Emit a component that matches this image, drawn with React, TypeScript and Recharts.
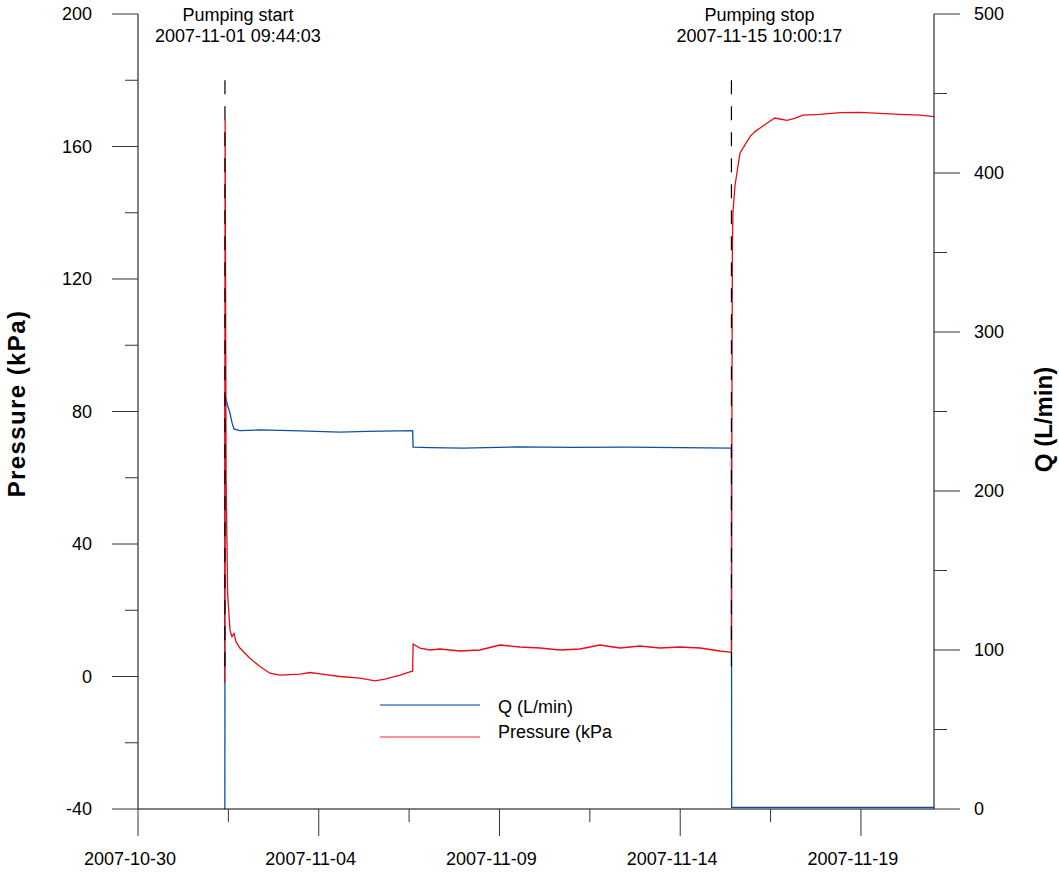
import {
	Legend,
	Line,
	LineChart,
	ReferenceLine,
	XAxis,
	YAxis,
} from "recharts";

// pressure (kPa), left axis
const pressureTimes = [
	"2007-11-01 09:30", "2007-11-01 09:50", "2007-11-01 10:30", "2007-11-01 11:30",
	"2007-11-01 13:05", "2007-11-01 14:24", "2007-11-01 15:44", "2007-11-01 17:02",
	"2007-11-01 19:41", "2007-11-01 23:00", "2007-11-02 02:21", "2007-11-02 09:00",
	"2007-11-02 15:36", "2007-11-02 22:19", "2007-11-03 11:30", "2007-11-03 18:13",
	"2007-11-04 00:50", "2007-11-04 14:10", "2007-11-05 03:23", "2007-11-05 13:20",
	"2007-11-05 20:00", "2007-11-06 06:00", "2007-11-06 12:30", "2007-11-06 14:20",
	"2007-11-06 14:40", "2007-11-06 19:15", "2007-11-07 02:00", "2007-11-07 08:30",
	"2007-11-07 21:50", "2007-11-08 11:00", "2007-11-09 00:20", "2007-11-09 13:40",
	"2007-11-10 02:55", "2007-11-10 16:10", "2007-11-11 05:30", "2007-11-11 18:40",
	"2007-11-12 08:00", "2007-11-12 21:20", "2007-11-13 10:30", "2007-11-13 23:50",
	"2007-11-14 13:10", "2007-11-15 02:25", "2007-11-15 10:00", "2007-11-15 10:20",
	"2007-11-15 10:40", "2007-11-15 11:00", "2007-11-15 12:20", "2007-11-15 15:40",
	"2007-11-15 19:00", "2007-11-15 22:20", "2007-11-16 01:40", "2007-11-16 04:50",
	"2007-11-16 09:30", "2007-11-16 14:50", "2007-11-16 18:10", "2007-11-16 22:50",
	"2007-11-17 04:00", "2007-11-17 09:30", "2007-11-17 20:50", "2007-11-18 10:10",
	"2007-11-18 23:20", "2007-11-19 12:40", "2007-11-20 01:50", "2007-11-20 15:10",
	"2007-11-21 00:30",
];
const pressureValues = [
	-2, 168, 60, 25,
	14, 12, 13, 10.5,
	8.6, 7, 5.5, 3,
	1, 0.4, 0.7, 1.2,
	0.8, 0, -0.5, -1.3,
	-0.8, 0.4, 1.4, 1.6,
	9.8, 8.6, 8, 8.3,
	7.7, 8, 9.5, 8.9,
	8.6, 8, 8.3, 9.5,
	8.6, 9.2, 8.6, 8.9,
	8.6, 7.7, 7.3, 80,
	130, 140, 148, 158,
	160.5, 163, 164.5, 165.5,
	167, 168.6, 168.3, 167.9,
	168.5, 169.5, 169.7, 170.2,
	170.3, 170, 169.7, 169.5,
	169,
];

// flow Q (L/min), right axis
const flowTimes = [
	"2007-11-01 09:40", "2007-11-01 09:50", "2007-11-01 11:45", "2007-11-01 13:05",
	"2007-11-01 14:24", "2007-11-01 15:44", "2007-11-01 19:41", "2007-11-02 09:00",
	"2007-11-03 11:30", "2007-11-04 14:10", "2007-11-05 08:00", "2007-11-06 14:20",
	"2007-11-06 14:40", "2007-11-07 02:00", "2007-11-08 00:00", "2007-11-09 12:00",
	"2007-11-11 00:00", "2007-11-12 12:00", "2007-11-14 00:00", "2007-11-15 10:00",
	"2007-11-15 10:10", "2007-11-21 00:30",
];
const flowValues = [
	0, 260, 253, 249,
	243, 239, 238, 238.4,
	237.8, 237, 237.5, 238,
	227.6, 227.3, 227, 227.7,
	227.5, 227.6, 227.3, 227,
	1, 1,
];

const events = ["2007-11-01 09:44:03", "2007-11-15 10:00:17"];
const eventTitles = ["Pumping start", "Pumping stop"];
const eventLabelDx = [13, 28];

const xStart = "2007-10-30 00:00";
const xEnd = "2007-11-21 00:30";
const pressureTicks = [-40, -20, 0, 20, 40, 60, 80, 100, 120, 140, 160, 180, 200];
const flowTicks = [0, 50, 100, 150, 200, 250, 300, 350, 400, 450, 500];
const legendLabels = ["Q (L/min)", "Pressure (kPa"];

const ts = (s: string) => Date.parse(s.replace(" ", "T") + "Z");
const DAY = 86400000;
const t0 = ts(xStart);
const xTicks = [0, 2.5, 5, 7.5, 10, 12.5, 15, 17.5, 20].map((d) => t0 + d * DAY);

const pressureData = pressureTimes.map((s, i) => ({ t: ts(s), p: pressureValues[i] }));
const flowData = flowTimes.map((s, i) => ({ t: ts(s), q: flowValues[i] }));

const FONT = "'Liberation Sans', Arial, sans-serif";
const RED = "#ec0a14";
const BLUE = "#0c50a0";

const LeftTick = ({ x, y, payload }: any) => {
	const major = payload.value % 40 === 0;
	return (
		<g>
			<line x1={x - (major ? 26 : 13)} x2={x} y1={y} y2={y} stroke="#333" />
			{major && (
				<text x={x - 46} y={y} textAnchor="end" dominantBaseline="central" fontSize={18} fill="#000">
					{payload.value}
				</text>
			)}
		</g>
	);
};

const RightTick = ({ x, y, payload }: any) => {
	const major = payload.value % 100 === 0;
	return (
		<g>
			<line x1={x} x2={x + (major ? 26 : 13)} y1={y} y2={y} stroke="#333" />
			{major && (
				<text x={x + 40} y={y} textAnchor="start" dominantBaseline="central" fontSize={18} fill="#000">
					{payload.value}
				</text>
			)}
		</g>
	);
};

const BottomTick = ({ x, y, payload }: any) => {
	const days = Math.round((payload.value - t0) / DAY * 2) / 2;
	const major = days % 5 === 0;
	return (
		<g>
			<line x1={x} x2={x} y1={y} y2={y + (major ? 27 : 13)} stroke="#333" />
			{major && (
				<text x={x - 8} y={y + 50} textAnchor="middle" dominantBaseline="central" fontSize={18} fill="#000">
					{new Date(payload.value).toISOString().slice(0, 10)}
				</text>
			)}
		</g>
	);
};

const LegendBox = () => (
	<svg width={300} height={60} style={{ fontFamily: FONT }}>
		<line x1={0} x2={100} y1={15} y2={15} stroke="#4a7fc1" strokeWidth={1.5} />
		<text x={118} y={17} dominantBaseline="central" fontSize={18} fill="#000">
			{legendLabels[0]}
		</text>
		<line x1={0} x2={100} y1={47} y2={47} stroke="#ee7078" strokeWidth={1.5} />
		<text x={118} y={42} dominantBaseline="central" fontSize={18} fill="#000">
			{legendLabels[1]}
		</text>
	</svg>
);

const eventLabel = (i: number) => (props: any) => {
	const cx = props.viewBox.x + eventLabelDx[i];
	return (
		<g>
			<text x={cx} y={21} textAnchor="middle" fontSize={18} fill="#000">
				{eventTitles[i]}
			</text>
			<text x={cx} y={42} textAnchor="middle" fontSize={18} fill="#000">
				{events[i]}
			</text>
		</g>
	);
};

export default function App() {
	return (
		<div style={{ position: "absolute", left: 0, top: 0, fontFamily: FONT }}>
			<LineChart
				width={1059}
				height={875}
				margin={{ top: 14, right: 0, bottom: 0, left: 0 }}
			>
				<XAxis
					dataKey="t"
					type="number"
					domain={[t0, ts(xEnd)]}
					ticks={xTicks}
					interval={0}
					height={66}
					tickSize={0}
					tickMargin={0}
					tickLine={false}
					axisLine={{ stroke: "#000" }}
					tick={<BottomTick />}
					allowDataOverflow
				/>
				<YAxis
					yAxisId="p"
					orientation="left"
					width={138}
					domain={[-40, 200]}
					ticks={pressureTicks}
					interval={0}
					tickSize={0}
					tickMargin={0}
					tickLine={false}
					axisLine={{ stroke: "#000" }}
					tick={<LeftTick />}
					label={(props: any) => {
						const vb = props.viewBox;
						const cx = vb.x + 16;
						const cy = vb.y + vb.height / 2 - 8;
						return (
							<text
								x={cx}
								y={cy}
								transform={`rotate(-90 ${cx} ${cy})`}
								textAnchor="middle"
								dominantBaseline="central"
								fontSize={24}
								letterSpacing={1.4}
								fontWeight="bold"
								fill="#000"
							>
								Pressure (kPa)
							</text>
						);
					}}
				/>
				<YAxis
					yAxisId="q"
					orientation="right"
					width={125}
					domain={[0, 500]}
					ticks={flowTicks}
					interval={0}
					tickSize={0}
					tickMargin={0}
					tickLine={false}
					axisLine={{ stroke: "#000" }}
					tick={<RightTick />}
					label={(props: any) => {
						const vb = props.viewBox;
						const cx = vb.x + 109;
						const cy = vb.y + vb.height / 2 + 8;
						return (
							<text
								x={cx}
								y={cy}
								transform={`rotate(-90 ${cx} ${cy})`}
								textAnchor="middle"
								dominantBaseline="central"
								fontSize={24}
								fontWeight="bold"
								fill="#000"
							>
								Q (L/min)
							</text>
						);
					}}
				/>
				<Line
					yAxisId="q"
					data={flowData}
					dataKey="q"
					name="Q (L/min)"
					stroke={BLUE}
					strokeWidth={1.3}
					dot={false}
					type="linear"
					isAnimationActive={false}
				/>
				<Line
					yAxisId="p"
					data={pressureData}
					dataKey="p"
					name="Pressure (kPa"
					stroke={RED}
					strokeWidth={1.3}
					dot={false}
					type="linear"
					isAnimationActive={false}
				/>
				{events.map((e, i) => (
					<ReferenceLine
						key={e}
						yAxisId="p"
						segment={[
							{ x: ts(e), y: 180 },
							{ x: ts(e), y: 0 },
						]}
						stroke="#000"
						strokeWidth={1.2}
						strokeDasharray="14 12"
						label={eventLabel(i)}
					/>
				))}
				<Legend
					layout="vertical"
					align="center"
					verticalAlign="middle"
					content={<LegendBox />}
					wrapperStyle={{ position: "absolute", left: 380, top: 690, width: 300, height: 60 }}
				/>
			</LineChart>
		</div>
	);
}
